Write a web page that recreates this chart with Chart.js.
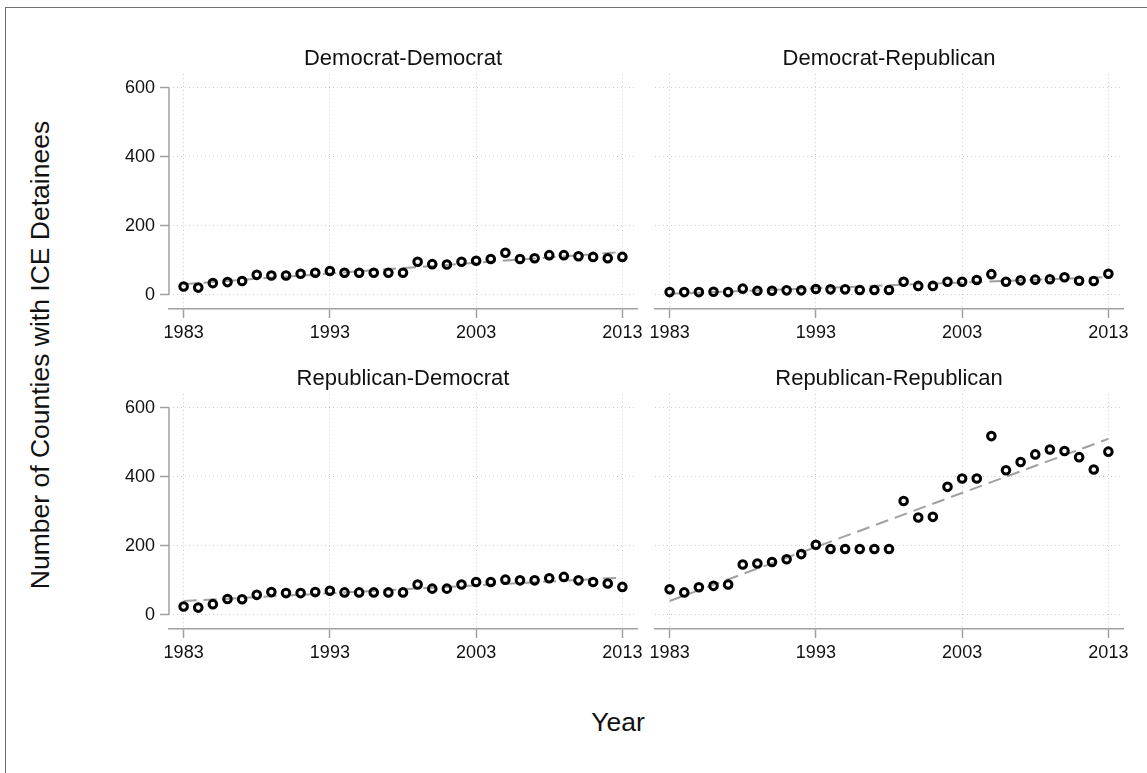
<!DOCTYPE html>
<html><head><meta charset="utf-8">
<script src="https://cdn.jsdelivr.net/npm/chart.js@4.4.0/dist/chart.umd.min.js"></script>
<style>
html,body{margin:0;padding:0;background:#fff;width:1147px;height:773px;overflow:hidden;font-family:"Liberation Sans",Arial,sans-serif;}
#frame{position:absolute;left:5px;top:7px;width:1200px;height:800px;border:1px solid #6f6f6f;box-sizing:border-box;}
canvas{position:absolute;}
.ttl{position:absolute;color:#111;white-space:nowrap;transform:translate(-50%,-50%);line-height:normal;}
.pt{font-size:22px;}
.ax{font-size:26.5px;}
</style></head><body>
<div id="frame"></div>
<canvas id="c1"></canvas><canvas id="c2"></canvas><canvas id="c3"></canvas><canvas id="c4"></canvas>
<div class="ttl pt" style="left:403px;top:58px">Democrat-Democrat</div>
<div class="ttl pt" style="left:889px;top:58px">Democrat-Republican</div>
<div class="ttl pt" style="left:403px;top:378px">Republican-Democrat</div>
<div class="ttl pt" style="left:889px;top:378px">Republican-Republican</div>
<div class="ttl ax" style="left:618px;top:722px">Year</div>
<div class="ttl ax" style="left:40px;top:355px;transform:translate(-50%,-50%) rotate(-90deg)">Number of Counties with ICE Detainees</div>
<script>
// ---- data ----
const years = [1983,1984,1985,1986,1987,1988,1989,1990,1991,1992,1993,1994,1995,1996,1997,1998,1999,2000,2001,2002,2003,2004,2005,2006,2007,2008,2009,2010,2011,2012,2013];
const ddVals = [24,21,34,37,40,58,56,56,61,64,69,64,64,64,64,64,96,89,88,96,99,104,122,104,106,115,115,112,110,106,110];
const drVals = [8,8,8,9,8,18,12,12,13,13,17,16,16,14,14,14,38,26,26,38,38,43,60,38,42,44,45,51,41,40,61];
const rdVals = [24,21,31,46,45,58,66,63,63,66,70,65,65,65,65,65,88,76,76,88,95,95,102,100,100,106,110,100,95,91,81];
const rrVals = [74,65,80,84,88,146,149,153,161,176,203,191,191,191,191,191,330,282,284,371,395,395,518,419,443,465,479,475,457,421,473];
// fitted line values at first and last year
const ddFit = [31,124];
const drFit = [3,52];
const rdFit = [40,108];
const rrFit = [40,510];
const xTicks = [1983,1993,2003,2013];
const yTicks = [0,200,400,600];

Chart.defaults.font.family = "'Liberation Sans', Arial, sans-serif";

const yAxisLine = {
  id:'yAxisLine',
  afterDraw(chart, args, opts){
    if(!opts.show) return;
    const ys = chart.scales.y, ctx = chart.ctx, x = chart.chartArea.left;
    ctx.save();
    ctx.strokeStyle = '#a0a0a0'; ctx.lineWidth = 1.5;
    ctx.beginPath();
    ctx.moveTo(x, ys.getPixelForValue(yTicks[yTicks.length-1]));
    ctx.lineTo(x, ys.getPixelForValue(yTicks[0]));
    ctx.stroke();
    ctx.restore();
  }
};

function makePanel(id, vals, fit, box, showY){
  const padL = showY ? 0 : 24, padR = 28, padT = 30, yw = showY ? 69 : 0, xh = 44;
  const left = box.l - yw - padL, top = box.t - padT;
  const width = box.r + padR - left, height = box.b + xh - top;
  const cv = document.getElementById(id);
  cv.width = width; cv.height = height;
  cv.style.left = left + 'px'; cv.style.top = top + 'px';
  cv.style.width = width + 'px'; cv.style.height = height + 'px';
  const tickFont = {size:18, family:"'Liberation Sans', Arial, sans-serif"};
  new Chart(cv.getContext('2d'), {
    type:'scatter',
    data:{datasets:[
      {type:'line', data:[{x:years[0], y:fit[0]},{x:years[years.length-1], y:fit[1]}],
       borderColor:'#a0a0a0', borderWidth:2, borderDash:[13,7], pointRadius:0, fill:false, order:2},
      {data: years.map((yr,i)=>({x:yr, y:vals[i]})), pointRadius:3.8, pointBorderWidth:3,
       pointBorderColor:'#000', pointBackgroundColor:'rgba(255,255,255,0)', showLine:false, order:1}
    ]},
    options:{
      responsive:false, animation:false, events:[], devicePixelRatio:1,
      layout:{padding:{left:padL, right:padR, top:padT, bottom:0}},
      plugins:{legend:{display:false}, tooltip:{enabled:false}, yAxisLine:{show:showY}},
      scales:{
        x:{type:'linear', min:1982, max:2014,
           afterBuildTicks:s=>{s.ticks = xTicks.map(v=>({value:v}));},
           afterFit:s=>{s.height = xh;},
           grid:{color:'#cfcfcf', lineWidth:1, tickLength:9, tickColor:'#a0a0a0', tickWidth:1.5, tickBorderDash:[]},
           border:{display:true, color:'#a0a0a0', width:1.5, dash:[1,3]},
           ticks:{font:tickFont, color:'#111', padding:4, maxRotation:0, autoSkip:false, callback:v=>String(v)}},
        y:{type:'linear', min:-41, max:640,
           afterBuildTicks:s=>{s.ticks = yTicks.map(v=>({value:v}));},
           afterFit:s=>{s.width = yw;},
           grid:{color:'#cfcfcf', lineWidth:1, drawTicks:showY, tickLength:9, tickColor:'#a0a0a0', tickWidth:1.5, tickBorderDash:[]},
           border:{display:false, dash:[1,3]},
           ticks:{display:showY, font:tickFont, color:'#111', padding:5, callback:v=>String(v)}}
      }
    },
    plugins:[yAxisLine]
  });
}

makePanel('c1', ddVals, ddFit, {l:169, r:637, t:74, b:309}, true);
makePanel('c2', drVals, drFit, {l:655, r:1123, t:74, b:309}, false);
makePanel('c3', rdVals, rdFit, {l:169, r:637, t:394, b:629}, true);
makePanel('c4', rrVals, rrFit, {l:655, r:1123, t:394, b:629}, false);
</script>
</body></html>
